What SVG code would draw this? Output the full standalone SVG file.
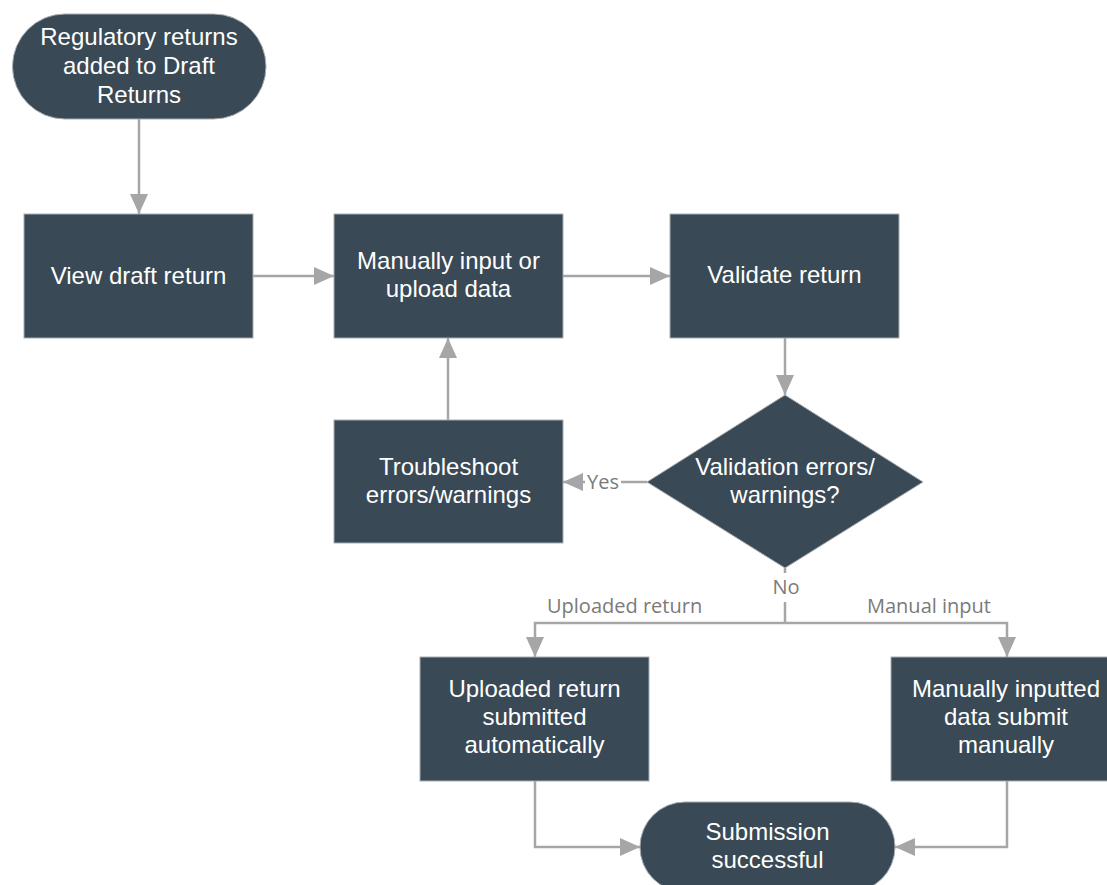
<svg xmlns="http://www.w3.org/2000/svg" width="1107" height="885" viewBox="0 0 1107 885">
<style>
.node{fill:#394955;stroke:#a9adb0;stroke-width:1}
.nt{font-family:"Liberation Sans",Arial,sans-serif;font-size:24px;fill:#ffffff;text-anchor:middle}
.conn{fill:none;stroke:#a6a6a6;stroke-width:2.5}
.lbl{font-family:"Open Sans","Liberation Sans",sans-serif;font-size:20px;fill:#7a7a7a}
</style>
<defs>
<marker id="ah" viewBox="0 0 20 18" refX="20" refY="9" markerWidth="20" markerHeight="18" markerUnits="userSpaceOnUse" orient="auto">
<path d="M0,0 L20,9 L0,18 z" fill="#a6a6a6"/>
</marker>
</defs>
<rect width="1107" height="885" fill="#ffffff"/>
<g id="connectors">
<path class="conn" d="M139,119 L139,214" marker-end="url(#ah)"/>
<path class="conn" d="M253,276 L334,276" marker-end="url(#ah)"/>
<path class="conn" d="M563,276 L670,276" marker-end="url(#ah)"/>
<path class="conn" d="M785,338 L785,395" marker-end="url(#ah)"/>
<path class="conn" d="M647,482 L621,482"/>
<path class="conn" d="M585,482 L563,482" marker-end="url(#ah)"/>
<path class="conn" d="M448,420 L448,338" marker-end="url(#ah)"/>
<path class="conn" d="M785,568 L785,573"/>
<path class="conn" d="M785,602 L785,623"/>
<path class="conn" d="M785,623 L535,623 L535,657" marker-end="url(#ah)"/>
<path class="conn" d="M785,623 L1007,623 L1007,657" marker-end="url(#ah)"/>
<path class="conn" d="M535,781 L535,847 L640,847" marker-end="url(#ah)"/>
<path class="conn" d="M1007,781 L1007,847 L895,847" marker-end="url(#ah)"/>
<text class="lbl" x="587" y="489">Yes</text>
<text class="lbl" x="786" y="594" text-anchor="middle">No</text>
<text class="lbl" x="547" y="613">Uploaded return</text>
<text class="lbl" x="867" y="613">Manual input</text>
</g>
<g id="start">
<rect class="node" x="12.5" y="14" width="253.5" height="105" rx="52.5" ry="52.5"/>
<text class="nt" x="139" y="45">Regulatory returns</text>
<text class="nt" x="139" y="74">added to Draft</text>
<text class="nt" x="139" y="103">Returns</text>
</g>
<g id="view">
<rect class="node" x="24" y="214" width="229" height="124"/>
<text class="nt" x="138.5" y="284">View draft return</text>
</g>
<g id="input">
<rect class="node" x="334" y="214" width="229" height="124"/>
<text class="nt" x="448.5" y="269">Manually input or</text>
<text class="nt" x="448.5" y="297">upload data</text>
</g>
<g id="validate">
<rect class="node" x="670" y="214" width="229" height="124"/>
<text class="nt" x="784.5" y="283">Validate return</text>
</g>
<g id="decision">
<polygon class="node" points="785,395 923,482 785,568 647,482"/>
<text class="nt" x="785" y="475">Validation errors/</text>
<text class="nt" x="785" y="503">warnings?</text>
</g>
<g id="troubleshoot">
<rect class="node" x="334" y="420" width="229" height="123"/>
<text class="nt" x="448.5" y="475">Troubleshoot</text>
<text class="nt" x="448.5" y="503">errors/warnings</text>
</g>
<g id="uploaded">
<rect class="node" x="420" y="657" width="229" height="124"/>
<text class="nt" x="534.5" y="697">Uploaded return</text>
<text class="nt" x="534.5" y="725">submitted</text>
<text class="nt" x="534.5" y="753">automatically</text>
</g>
<g id="manual">
<rect class="node" x="891" y="657" width="230" height="124"/>
<text class="nt" x="1006" y="697">Manually inputted</text>
<text class="nt" x="1006" y="725">data submit</text>
<text class="nt" x="1006" y="753">manually</text>
</g>
<g id="end">
<rect class="node" x="640" y="802" width="255" height="90" rx="45" ry="45"/>
<text class="nt" x="767.5" y="840">Submission</text>
<text class="nt" x="767.5" y="868">successful</text>
</g>
</svg>
